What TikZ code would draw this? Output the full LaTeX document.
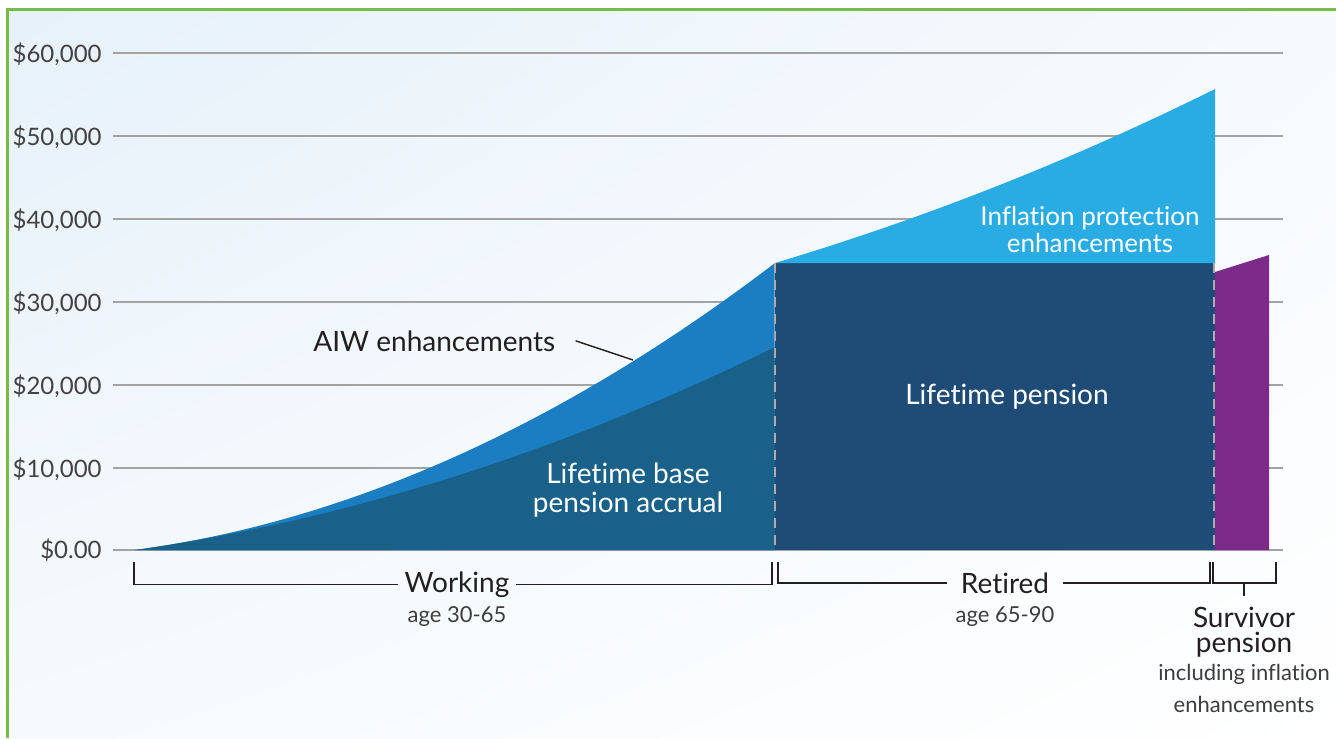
\documentclass[tikz,border=0pt]{standalone}
\usepackage{fontspec}
\setmainfont{Lato}[Ligatures={NoCommon}]
\usepackage{xcolor}
\usepackage{tikz}
\usetikzlibrary{positioning,shadings}

\definecolor{frameGreen}{HTML}{77BC4B}
\definecolor{bgBlue}{HTML}{E6F1FA}
\definecolor{gridGray}{HTML}{A3A3A3}
\definecolor{baseTeal}{HTML}{1A6189}
\definecolor{aiwBlue}{HTML}{1B7EC2}
\definecolor{retNavy}{HTML}{1E4C77}
\definecolor{inflBlue}{HTML}{29ACE3}
\definecolor{survPurple}{HTML}{7E2A8B}
\definecolor{inkDark}{HTML}{231F20}
\definecolor{inkGray}{HTML}{3D3D3D}

\tikzset{
    gridline/.style={line width=1pt, draw=gridGray},
    ticklabel/.style={anchor=base east, inner sep=0pt, text=inkDark!85,
        font=\fontsize{12}{14}\selectfont},
    arealabel/.style={text=white, align=center, inner sep=0pt,
        font=\fontsize{14}{14.5}\selectfont},
    divider/.style={line width=1.2pt, draw=gridGray!90, dash pattern=on 5pt off 3.5pt},
    bracket/.style={line width=0.7pt, draw=inkDark},
    phaselabel/.style={anchor=base, inner xsep=3pt, inner ysep=0pt, text=inkDark,
        font=\fontsize{14}{15}\selectfont},
    agelabel/.style={anchor=base, inner sep=0pt, text=inkGray,
        font=\fontsize{11}{13}\selectfont},
}

\begin{document}
\begin{tikzpicture}[x=0.5pt, y=-0.5pt]
                \useasboundingbox (0,0) rectangle (1336,738);

                % background and frame
                \fill[white] (0,0) rectangle (1336,738);
                \shade[
                    upper left=bgBlue,
                    upper right=bgBlue!35!white,
                    lower left=bgBlue!35!white,
                    lower right=white
                    ] (7,9.5) rectangle (1336,738);
                \draw[
                    line width=1.5pt,
                    frameGreen
                    ] (7,738) -- (7,9.5) -- (1336,9.5);

                % grid
                \draw[gridline] (113,53) -- (1283,53);
                \draw[gridline] (113,136) -- (1283,136);
                \draw[gridline] (113,219) -- (1283,219);
                \draw[gridline] (113,302) -- (1283,302);
                \draw[gridline] (113,385) -- (1283,385);
                \draw[gridline] (113,468) -- (1283,468);
                \draw[gridline] (113,550) -- (1283,550);

                \node[ticklabel] (tick60) at (102,62) {\$60,000};
                \node[ticklabel] (tick50) at (102,145) {\$50,000};
                \node[ticklabel] (tick40) at (102,228) {\$40,000};
                \node[ticklabel] (tick30) at (102,311) {\$30,000};
                \node[ticklabel] (tick20) at (102,394) {\$20,000};
                \node[ticklabel] (tick10) at (102,477) {\$10,000};
                \node[ticklabel] (tick0) at (102,558) {\$0.00};

                % working years
                \fill[
                    aiwBlue
                    ] (135,550) -- plot[domain=0:1, samples=60]
                    ({135+640*\x}, {550-287*(0.3*\x+0.7*\x*\x)}) -- (775,550) -- cycle;
                \fill[
                    baseTeal
                    ] (135,550) -- plot[domain=0:1, samples=60]
                    ({135+640*\x}, {550-203*(0.45*\x+0.55*\x*\x)}) -- (775,550) -- cycle;

                % retired years
                \fill[
                    retNavy
                    ] (775,263) rectangle (1215,550);
                \fill[
                    inflBlue
                    ] (775,263) .. controls (922,219) and (1068,162) .. (1215,89)
                    -- (1215,263) -- cycle;

                % survivor
                \fill[
                    survPurple
                    ] (1215,550) -- (1215,272) -- (1269,255) -- (1269,550) -- cycle;

                \draw[divider] (775,263) -- (775,550);
                \draw[divider] (1214,263) -- (1214,550);

                % area labels
                \node[arealabel] (baseLbl) at (628,490) {Lifetime base\\pension accrual};
                \node[arealabel] (lifeLbl) at (1007,397) {Lifetime pension};
                \node[
                    arealabel,
                    font=\fontsize{13}{13.5}\selectfont
                    ] (inflLbl) at (1090,230) {Inflation protection\\enhancements};

                \node[
                    anchor=base west,
                    inner sep=0pt,
                    text=inkDark,
                    font=\fontsize{14}{15}\selectfont
                    ] (aiw) at (313,351) {AIW enhancements};
                \coordinate (aiwTip) at (633,360);
                \draw[line width=0.7pt, inkDark] ([xshift=10pt]aiw.east) -- (aiwTip);

                % phases
                \node[phaselabel] (working) at (457,592) {Working};
                \node[agelabel] (workAge) at ([yshift=-15pt]working.base) {age 30-65};
                \draw[bracket] (134,562) |- (working.west);
                \draw[bracket] (working.east) -| (772,562);

                \node[phaselabel, inner xsep=7pt] (retired) at (1005,593) {Retired};
                \node[agelabel] (retAge) at ([yshift=-14.5pt]retired.base) {age 65-90};
                \draw[bracket] (778,562) |- (retired.west);
                \draw[bracket] (retired.east) -| (1210,562);

                \node[phaselabel] (surv) at (1244,627) {Survivor};
                \node[phaselabel] (survB) at ([yshift=-12.5pt]surv.base) {pension};
                \node[agelabel] (survC) at ([yshift=-14pt]survB.base) {including inflation};
                \node[agelabel] (survD) at ([yshift=-16pt]survC.base) {enhancements};
                \coordinate (survMid) at (1244,583);
                \draw[bracket] (1213,562) |- (1276,583) -- (1276,562);
                \draw[bracket] (survMid) -- ++(0,13);
\end{tikzpicture}
\end{document}
